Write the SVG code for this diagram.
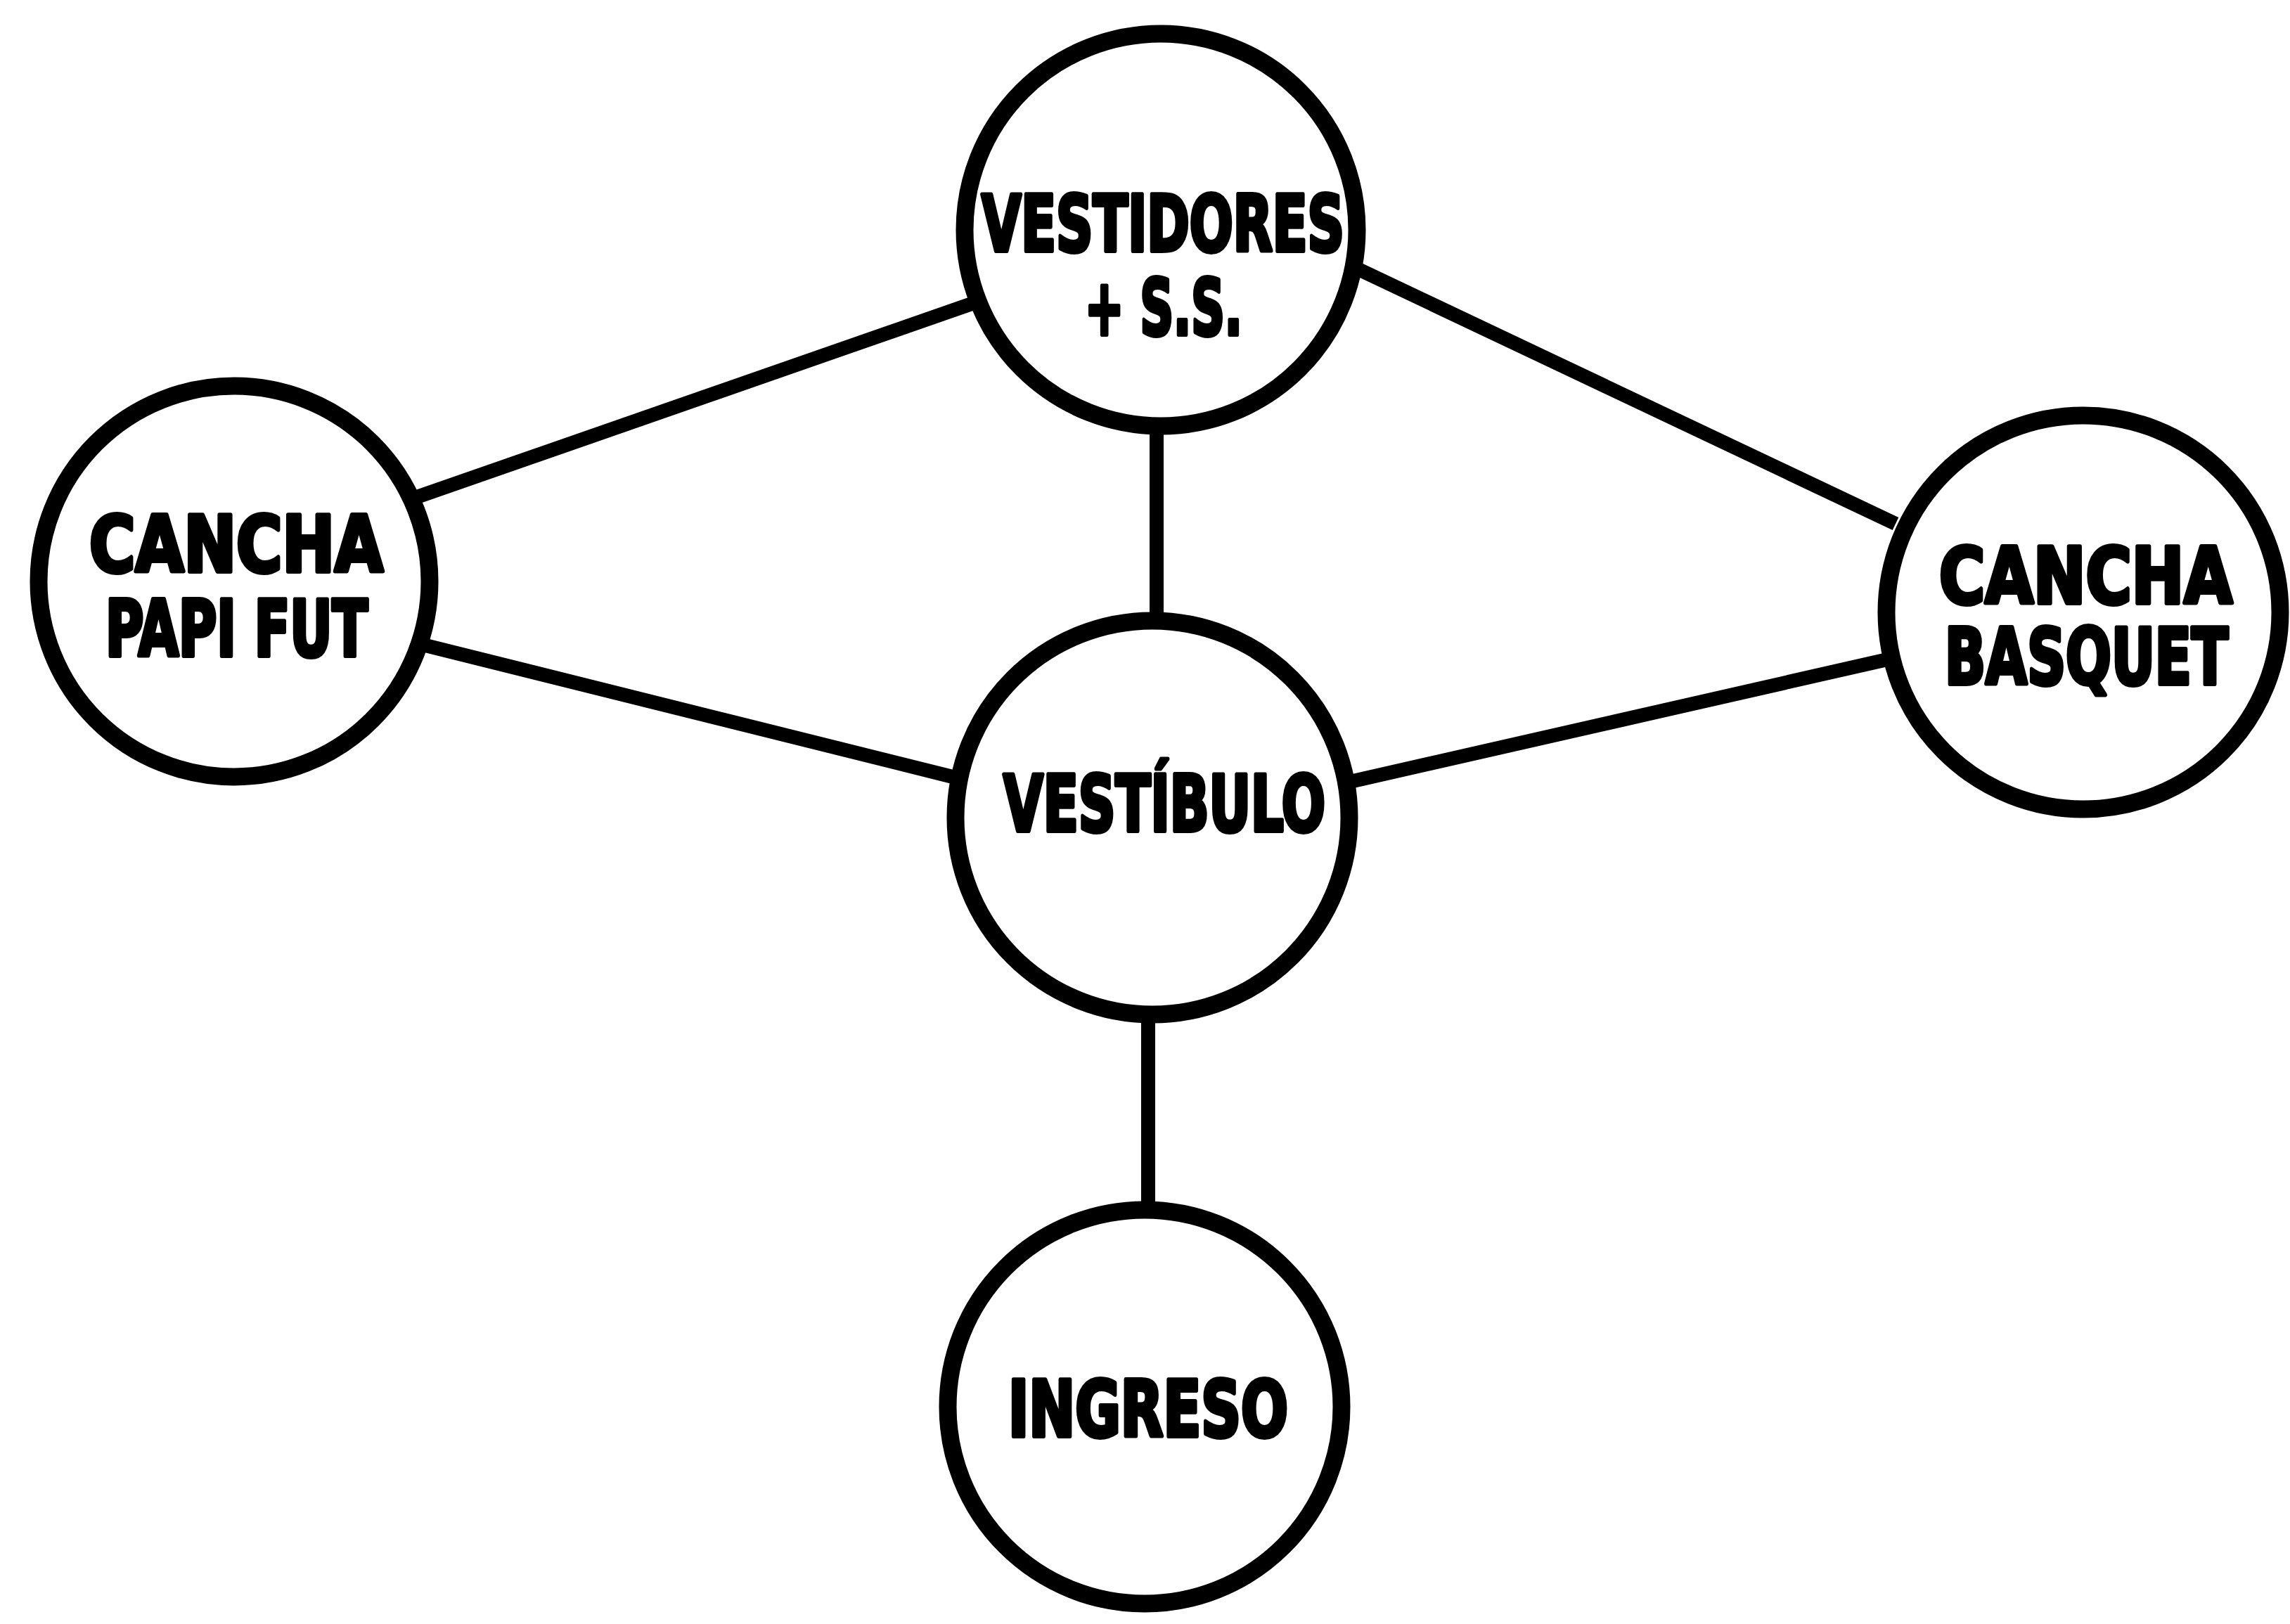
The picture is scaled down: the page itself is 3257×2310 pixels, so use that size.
<svg xmlns="http://www.w3.org/2000/svg" width="3257" height="2310" viewBox="0 0 3257 2310">
<style>
.node{fill:#fff;stroke:#000;stroke-width:25}
.edge{stroke:#000;stroke-width:20;stroke-linecap:butt;fill:none}
.lbl{font-family:"DejaVu Sans Condensed","DejaVu Sans","Liberation Sans",sans-serif;font-weight:bold;font-size:110px;fill:#000;stroke:#000;stroke-width:6;stroke-linejoin:round}
</style>
<rect width="3257" height="2310" fill="#fff"/>
<g id="connectors">
<line class="edge" x1="1385" y1="431" x2="590" y2="708"/>
<line class="edge" x1="1930" y1="382" x2="2696" y2="745"/>
<line class="edge" x1="1645" y1="610" x2="1645" y2="880"/>
<line class="edge" x1="605" y1="918" x2="1355" y2="1105"/>
<line class="edge" x1="1920" y1="1112" x2="2680" y2="939"/>
<line class="edge" x1="1633" y1="1450" x2="1633" y2="1715"/>
</g>
<g id="vestidores">
<circle class="node" cx="1651" cy="327" r="279"/>
<text class="lbl" x="1396" y="357" textLength="516" lengthAdjust="spacingAndGlyphs">VESTIDORES</text>
<text class="lbl" x="1543" y="476" textLength="224" lengthAdjust="spacingAndGlyphs">+ S.S.</text>
</g>
<g id="cancha-papi-fut">
<circle class="node" cx="333" cy="827" r="278"/>
<text class="lbl" x="127" y="813" textLength="418" lengthAdjust="spacingAndGlyphs">CANCHA</text>
<text class="lbl" x="150" y="933" textLength="373" lengthAdjust="spacingAndGlyphs">PAPI FUT</text>
</g>
<g id="cancha-basquet">
<circle class="node" cx="2963" cy="871" r="280"/>
<text class="lbl" x="2758" y="858" textLength="417" lengthAdjust="spacingAndGlyphs">CANCHA</text>
<text class="lbl" x="2766" y="973" textLength="403" lengthAdjust="spacingAndGlyphs">BASQUET</text>
</g>
<g id="vestibulo">
<circle class="node" cx="1639" cy="1163" r="280"/>
<text class="lbl" x="1427" y="1182" textLength="458" lengthAdjust="spacingAndGlyphs">VESTÍBULO</text>
</g>
<g id="ingreso">
<circle class="node" cx="1628" cy="2001" r="280"/>
<text class="lbl" x="1434" y="2043" textLength="398" lengthAdjust="spacingAndGlyphs">INGRESO</text>
</g>
</svg>
